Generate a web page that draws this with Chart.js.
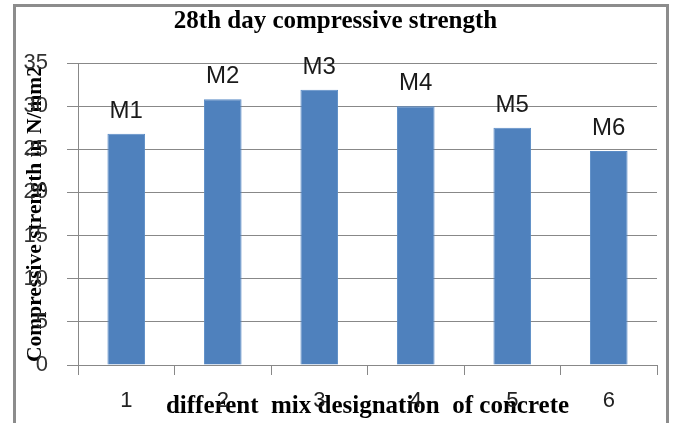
<!DOCTYPE html>
<html>
<head>
<meta charset="utf-8">
<script src="https://cdn.jsdelivr.net/npm/chart.js@4.4.1/dist/chart.umd.min.js"></script>
<style>
  html, body { margin: 0; padding: 0; background: #fff; }
  #wrap { width: 674px; height: 423px; }
</style>
</head>
<body>
<div id="wrap"><canvas id="chart" width="674" height="423"></canvas></div>
<script>
const categories = ['1', '2', '3', '4', '5', '6'];
const mixLabels = ['M1', 'M2', 'M3', 'M4', 'M5', 'M6'];
const strength = [26.8, 30.8, 31.9, 30.0, 27.5, 24.8];
const yMin = 0, yMax = 35, yStep = 5;

// grey frame round the whole picture
const framePlugin = {
    id: 'frame',
    beforeDraw(chart) {
        const ctx = chart.ctx;
        ctx.save();
        ctx.fillStyle = '#fff';
        ctx.fillRect(0, 0, chart.width, chart.height);
        ctx.strokeStyle = '#8c8c8c';
        ctx.lineWidth = 3;
        ctx.strokeRect(14.5, 5.5, 653, 430);
        ctx.restore();
    }
};

// M1..M6 above each bar
const mixLabelPlugin = {
    id: 'mixLabels',
    afterDatasetsDraw(chart) {
        const ctx = chart.ctx;
        const meta = chart.getDatasetMeta(0);
        ctx.save();
        ctx.font = '24px "Liberation Sans"';
        ctx.fillStyle = '#1a1a1a';
        ctx.textAlign = 'center';
        ctx.textBaseline = 'alphabetic';
        meta.data.forEach((bar, i) => {
            ctx.fillText(mixLabels[i], bar.x, bar.y - 16);
        });
        ctx.restore();
    }
};

const data = {
    labels: categories,
    datasets: [{
        data: strength,
        backgroundColor: '#4f81bd',
        borderColor: '#5b8cc6',
        borderWidth: 1,
        categoryPercentage: 1,
        barPercentage: 0.39
    }]
};

const config = {
    type: 'bar',
    data: data,
    options: {
        responsive: false,
        animation: false,
        devicePixelRatio: 1,
        layout: {
            padding: { left: 14, right: 17, top: 0, bottom: 0 }
        },
        plugins: {
            legend: { display: false },
            tooltip: { enabled: false },
            title: {
                display: true,
                text: '28th day compressive strength',
                color: '#000',
                font: { family: '"Liberation Serif"', size: 25, weight: 'bold' },
                padding: { top: 7, bottom: 26 }
            }
        },
        scales: {
            x: {
                grid: {
                    display: true,
                    drawOnChartArea: false,
                    drawTicks: true,
                    tickLength: 10,
                    color: '#888'
                },
                border: { color: '#888', width: 1 },
                ticks: {
                    color: '#222',
                    padding: 13,
                    font: { family: '"Liberation Sans"', size: 22 }
                },
                title: {
                    display: true,
                    text: 'different  mix designation  of concrete',
                    color: '#000',
                    font: { family: '"Liberation Serif"', size: 25, weight: 'bold' },
                    padding: { top: 0, bottom: 1 }
                },
                afterFit(scale) { scale.height = 58; }
            },
            y: {
                min: yMin,
                max: yMax,
                grid: {
                    color: '#888',
                    tickLength: 11
                },
                border: { color: '#888', width: 1 },
                ticks: {
                    stepSize: yStep,
                    color: '#333',
                    padding: 19,
                    font: { family: '"Liberation Sans"', size: 22 }
                },
                title: {
                    display: true,
                    text: 'Compressive strength in N/mm2',
                    color: '#000',
                    font: { family: '"Liberation Serif"', size: 21.5, weight: 'bold' },
                    padding: { top: 9, bottom: 0 }
                },
                afterFit(scale) { scale.width = 64; }
            }
        }
    },
    plugins: [framePlugin, mixLabelPlugin]
};

new Chart(document.getElementById('chart'), config);
</script>
</body>
</html>
